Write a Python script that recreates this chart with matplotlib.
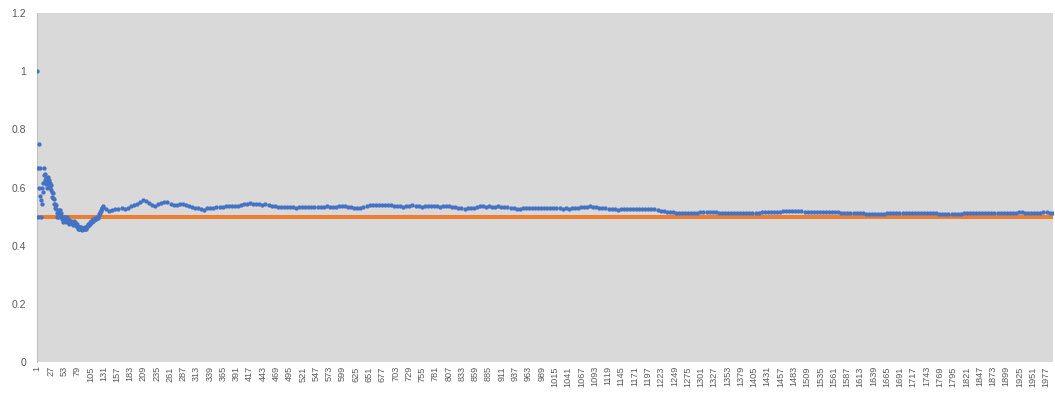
import numpy as np
import matplotlib
matplotlib.use('Agg')
import matplotlib.pyplot as plt

plt.rcParams['font.family'] = ['Liberation Sans', 'DejaVu Sans']

# number of trials on the category axis
n_trials = 1990
expected = 0.5

# running share, read trial by trial for the first 129 trials
early_trials = list(range(1, 130))
early_share = [
    1.000, 0.500, 0.667, 0.750, 0.600, 0.667, 0.571, 0.500, 0.556, 0.600,
    0.545, 0.583, 0.615, 0.643, 0.667, 0.625, 0.647, 0.611, 0.632, 0.600,
    0.619, 0.636, 0.609, 0.625, 0.600, 0.615, 0.593, 0.607, 0.586, 0.567,
    0.581, 0.563, 0.545, 0.559, 0.543, 0.528, 0.541, 0.526, 0.513, 0.500,
    0.512, 0.500, 0.512, 0.523, 0.511, 0.522, 0.511, 0.500, 0.490, 0.500,
    0.490, 0.481, 0.491, 0.500, 0.491, 0.500, 0.491, 0.483, 0.492, 0.500,
    0.492, 0.484, 0.476, 0.484, 0.477, 0.485, 0.478, 0.485, 0.478, 0.471,
    0.479, 0.486, 0.479, 0.473, 0.480, 0.474, 0.468, 0.474, 0.468, 0.463,
    0.457, 0.463, 0.458, 0.464, 0.459, 0.465, 0.460, 0.455, 0.461, 0.456,
    0.462, 0.457, 0.462, 0.457, 0.463, 0.458, 0.464, 0.469, 0.465, 0.470,
    0.475, 0.471, 0.476, 0.481, 0.476, 0.481, 0.486, 0.481, 0.486, 0.491,
    0.486, 0.491, 0.487, 0.491, 0.496, 0.491, 0.496, 0.500, 0.496, 0.500,
    0.504, 0.508, 0.512, 0.516, 0.520, 0.524, 0.528, 0.531, 0.535,
]

# after that, read every 6th trial (130, 136, ... 1990)
late_trials = list(range(130, n_trials + 1, 6))
late_share = [
    0.534, 0.525, 0.520, 0.524, 0.527, 0.526, 0.529, 0.527, 0.531, 0.535,
    0.540, 0.545, 0.550, 0.556, 0.553, 0.546, 0.541, 0.538, 0.542, 0.547,
    0.551, 0.549, 0.545, 0.541, 0.540, 0.543, 0.544, 0.540, 0.535, 0.532,
    0.530, 0.528, 0.525, 0.524, 0.528, 0.530, 0.531, 0.532, 0.533, 0.534,
    0.535, 0.535, 0.536, 0.537, 0.536, 0.539, 0.542, 0.545, 0.546, 0.545,
    0.544, 0.542, 0.541, 0.542, 0.540, 0.538, 0.536, 0.534, 0.533, 0.534,
    0.533, 0.532, 0.532, 0.531, 0.533, 0.532, 0.533, 0.534, 0.533, 0.534,
    0.534, 0.533, 0.534, 0.535, 0.534, 0.533, 0.534, 0.535, 0.535, 0.535,
    0.534, 0.532, 0.529, 0.528, 0.530, 0.533, 0.536, 0.539, 0.541, 0.541,
    0.541, 0.540, 0.540, 0.539, 0.540, 0.538, 0.537, 0.536, 0.534, 0.535,
    0.537, 0.539, 0.538, 0.536, 0.534, 0.535, 0.537, 0.538, 0.536, 0.535,
    0.534, 0.535, 0.536, 0.535, 0.534, 0.532, 0.530, 0.528, 0.527, 0.528,
    0.530, 0.531, 0.533, 0.535, 0.535, 0.534, 0.535, 0.534, 0.534, 0.535,
    0.534, 0.534, 0.533, 0.531, 0.528, 0.526, 0.527, 0.529, 0.530, 0.530,
    0.530, 0.530, 0.530, 0.529, 0.529, 0.529, 0.529, 0.529, 0.528, 0.528,
    0.527, 0.528, 0.527, 0.528, 0.529, 0.530, 0.532, 0.533, 0.534, 0.535,
    0.534, 0.533, 0.531, 0.530, 0.529, 0.527, 0.526, 0.525, 0.524, 0.525,
    0.525, 0.525, 0.525, 0.526, 0.526, 0.526, 0.526, 0.526, 0.526, 0.525,
    0.525, 0.521, 0.520, 0.518, 0.517, 0.516, 0.515, 0.514, 0.512, 0.511,
    0.511, 0.512, 0.514, 0.514, 0.514, 0.515, 0.515, 0.516, 0.516, 0.515,
    0.515, 0.514, 0.513, 0.512, 0.512, 0.513, 0.513, 0.514, 0.514, 0.513,
    0.512, 0.512, 0.513, 0.513, 0.514, 0.515, 0.516, 0.516, 0.516, 0.516,
    0.516, 0.517, 0.518, 0.519, 0.519, 0.519, 0.518, 0.519, 0.518, 0.516,
    0.515, 0.515, 0.515, 0.515, 0.515, 0.515, 0.515, 0.515, 0.515, 0.515,
    0.515, 0.514, 0.514, 0.512, 0.511, 0.511, 0.511, 0.511, 0.511, 0.510,
    0.509, 0.508, 0.508, 0.508, 0.508, 0.509, 0.511, 0.511, 0.511, 0.511,
    0.511, 0.511, 0.511, 0.511, 0.511, 0.511, 0.511, 0.511, 0.511, 0.511,
    0.511, 0.511, 0.511, 0.510, 0.509, 0.508, 0.508, 0.508, 0.508, 0.509,
    0.509, 0.511, 0.511, 0.511, 0.511, 0.511, 0.511, 0.511, 0.511, 0.511,
    0.511, 0.511, 0.511, 0.511, 0.511, 0.511, 0.511, 0.511, 0.513, 0.515,
    0.515, 0.514, 0.512, 0.511, 0.511, 0.512, 0.514, 0.515, 0.515, 0.514,
    0.513,
]

y_ticks = [0, 0.2, 0.4, 0.6, 0.8, 1, 1.2]
y_labels = ['0', '0.2', '0.4', '0.6', '0.8', '1', '1.2']

trials = early_trials + late_trials
share = early_share + late_share

fig = plt.figure(figsize=(10.55, 3.94), dpi=100)
ax = fig.add_axes([0.0351, 0.0812, 0.9629, 0.8858])
ax.set_facecolor('#d9d9d9')

ax.plot([1, n_trials], [expected, expected], color='#ed7d31', lw=2.9,
        solid_capstyle='butt', zorder=2)
ax.plot(trials, share, ls='none', marker='o', ms=3.1, mew=0,
        color='#4472c4', zorder=3)

ax.set_xlim(0.5, n_trials + 0.5)
ax.set_ylim(0, 1.2)

xt = np.arange(1, n_trials + 1, 26)
ax.set_xticks(xt)
ax.set_xticklabels([str(v) for v in xt], rotation=90, fontsize=6.6,
                   color='#595959')
ax.set_yticks(y_ticks)
ax.set_yticklabels(y_labels, fontsize=7.5, color='#595959')
ax.tick_params(axis='x', length=0, pad=3)
ax.tick_params(axis='y', length=0, pad=8)

for side in ['top', 'right', 'bottom']:
    ax.spines[side].set_visible(False)
ax.spines['left'].set_color('#bfbfbf')
ax.spines['left'].set_linewidth(0.75)

fig.savefig('out.png', dpi=100)
